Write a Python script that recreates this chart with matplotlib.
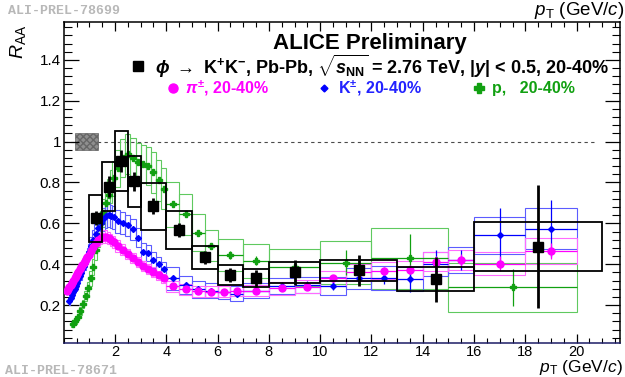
import matplotlib
matplotlib.use("Agg")
import matplotlib.pyplot as plt
from matplotlib.patches import Rectangle
from matplotlib.lines import Line2D
from matplotlib.ticker import MultipleLocator, FixedLocator, FuncFormatter

plt.rcParams['font.family'] = ['Liberation Sans', 'DejaVu Sans']
plt.rcParams['mathtext.fontset'] = 'custom'
plt.rcParams['mathtext.rm'] = 'Liberation Sans:bold'
plt.rcParams['mathtext.it'] = 'Liberation Sans:italic:bold'
plt.rcParams['mathtext.bf'] = 'Liberation Sans:bold'
plt.rcParams['mathtext.sf'] = 'Liberation Sans'
plt.rcParams['mathtext.cal'] = 'Liberation Sans:italic'

# ---------------- data ----------------
# phi -> K+K-  (black)
phi_pt = [1.25, 1.75, 2.25, 2.75, 3.5, 4.5, 5.5, 6.5, 7.5, 9.0, 11.5, 14.5, 18.5]
phi_hw = [0.25, 0.25, 0.25, 0.25, 0.5, 0.5, 0.5, 0.5, 0.5, 1.0, 1.5, 1.5, 2.5]
phi_raa = [0.625, 0.78, 0.905, 0.805, 0.684, 0.567, 0.433, 0.346, 0.33, 0.36, 0.37, 0.327, 0.486]
phi_stat = [0.035, 0.053, 0.055, 0.046, 0.04, 0.035, 0.03, 0.035, 0.04, 0.06, 0.075, 0.11, 0.30]
phi_sys = [0.115, 0.12, 0.145, 0.125, 0.115, 0.095, 0.057, 0.048, 0.044, 0.05, 0.05, 0.06, 0.12]

# pi+-  (magenta)
pi_pt = [0.125, 0.175, 0.225, 0.275, 0.325, 0.375, 0.425, 0.475, 0.525, 0.575, 0.625, 0.675,
         0.725, 0.775, 0.825, 0.875, 0.925, 0.975,
         1.05, 1.15, 1.25, 1.35, 1.45, 1.55, 1.65, 1.75, 1.85, 1.95,
         2.1, 2.3, 2.5, 2.7, 2.9, 3.1, 3.3, 3.5, 3.7, 3.9,
         4.25, 4.75, 5.25, 5.75, 6.25, 6.75,
         7.5, 8.5, 9.5, 10.5, 11.5, 12.5, 13.5, 14.5, 15.5, 17.0, 19.0]
pi_hw = [0.025] * 18 + [0.05] * 10 + [0.1] * 10 + [0.25] * 6 + [0.5] * 9 + [1.0, 1.0]
pi_raa = [0.27, 0.28, 0.29, 0.30, 0.31, 0.32, 0.33, 0.34, 0.35, 0.36, 0.375, 0.385,
          0.395, 0.405, 0.415, 0.425, 0.435, 0.445,
          0.465, 0.485, 0.505, 0.52, 0.53, 0.535, 0.535, 0.53, 0.52, 0.51,
          0.49, 0.47, 0.45, 0.43, 0.41, 0.39, 0.375, 0.36, 0.345, 0.33,
          0.291, 0.278, 0.268, 0.265, 0.265, 0.27,
          0.27, 0.281, 0.29, 0.33, 0.36, 0.368, 0.372, 0.413, 0.421, 0.403, 0.465]
pi_stat = [0.004] * 38 + [0.005, 0.005, 0.005, 0.006, 0.006, 0.007,
                          0.008, 0.01, 0.012, 0.015, 0.018, 0.02, 0.022, 0.025, 0.028, 0.035, 0.04]
pi_sys = [0.018, 0.018, 0.019, 0.019, 0.02, 0.02, 0.021, 0.021, 0.022, 0.022, 0.023, 0.023,
          0.024, 0.024, 0.025, 0.025, 0.026, 0.026,
          0.027, 0.028, 0.028, 0.029, 0.029, 0.03, 0.03, 0.03, 0.029, 0.029,
          0.028, 0.027, 0.026, 0.026, 0.025, 0.025, 0.024, 0.024, 0.023, 0.023,
          0.028, 0.027, 0.027, 0.027, 0.027, 0.028,
          0.028, 0.03, 0.032, 0.037, 0.04, 0.042, 0.043, 0.047, 0.048, 0.055, 0.065]

# K+-  (blue)
k_pt = [0.225, 0.275, 0.325, 0.375, 0.425, 0.475, 0.525, 0.575, 0.625, 0.675, 0.725, 0.775,
        0.825, 0.875, 0.925, 0.975,
        1.05, 1.15, 1.25, 1.35, 1.45, 1.55, 1.65, 1.75, 1.85, 1.95,
        2.1, 2.3, 2.5, 2.7, 2.9, 3.1, 3.3, 3.5, 3.7, 3.9,
        4.25, 4.75, 5.25, 5.75, 6.25, 6.75,
        7.5, 8.5, 9.5, 10.5, 11.5, 12.5, 13.5, 14.5, 15.5, 17.0, 19.0]
k_hw = [0.025] * 16 + [0.05] * 10 + [0.1] * 10 + [0.25] * 6 + [0.5] * 9 + [1.0, 1.0]
k_raa = [0.22, 0.235, 0.25, 0.265, 0.28, 0.295, 0.31, 0.325, 0.34, 0.355, 0.375, 0.39,
         0.41, 0.425, 0.44, 0.46,
         0.49, 0.52, 0.55, 0.575, 0.60, 0.62, 0.635, 0.64, 0.635, 0.63,
         0.61, 0.60, 0.59, 0.57, 0.53, 0.46, 0.455, 0.42, 0.40, 0.375,
         0.33, 0.297, 0.278, 0.27, 0.265, 0.256,
         0.27, 0.294, 0.297, 0.294, 0.33, 0.332, 0.327, 0.40, 0.42, 0.541, 0.574]
k_stat = [0.005] * 26 + [0.01] * 10 + [0.008, 0.008, 0.008, 0.009, 0.01, 0.012,
                                      0.015, 0.018, 0.02, 0.022, 0.025, 0.03, 0.065, 0.07, 0.05,
                                      0.135, 0.14]
k_sys = [0.02, 0.021, 0.022, 0.024, 0.025, 0.026, 0.028, 0.029, 0.03, 0.032, 0.034, 0.035,
         0.037, 0.038, 0.04, 0.041,
         0.044, 0.047, 0.05, 0.052, 0.054, 0.056, 0.057, 0.058, 0.057, 0.057,
         0.055, 0.054, 0.053, 0.051, 0.048, 0.042, 0.041, 0.038, 0.036, 0.034,
         0.054, 0.043, 0.042, 0.038, 0.034, 0.036,
         0.036, 0.04, 0.04, 0.045, 0.05, 0.06, 0.06, 0.06, 0.065, 0.09, 0.10]

# p  (green)
p_pt = [0.35, 0.45, 0.55, 0.65, 0.75, 0.85, 0.95,
        1.05, 1.15, 1.25, 1.35, 1.45, 1.55, 1.65, 1.75, 1.85, 1.95,
        2.1, 2.3, 2.5, 2.7, 2.9, 3.1, 3.3, 3.5, 3.7, 3.9,
        4.25, 4.75, 5.25, 5.75, 6.5, 7.5, 9.0, 11.0, 13.5, 17.5]
p_hw = [0.05] * 17 + [0.1] * 10 + [0.25] * 4 + [0.5, 0.5, 1.0, 1.0, 1.5, 2.5]
p_raa = [0.105, 0.12, 0.14, 0.17, 0.205, 0.245, 0.285,
         0.33, 0.385, 0.47, 0.54, 0.60, 0.65, 0.70, 0.74, 0.78, 0.82,
         0.87, 0.92, 0.94, 0.92, 0.90, 0.89, 0.88, 0.85, 0.81, 0.77,
         0.693, 0.644, 0.555, 0.49, 0.444, 0.416, 0.384, 0.408, 0.428, 0.286]
p_stat = [0.003] * 17 + [0.006] * 10 + [0.01, 0.01, 0.012, 0.015, 0.02, 0.022, 0.025, 0.063, 0.118, 0.09]
p_sys = [0.012, 0.013, 0.015, 0.018, 0.022, 0.026, 0.03,
         0.035, 0.04, 0.048, 0.055, 0.062, 0.068, 0.073, 0.078, 0.082, 0.086,
         0.09, 0.095, 0.098, 0.097, 0.095, 0.094, 0.093, 0.1, 0.1, 0.1,
         0.11, 0.1, 0.09, 0.076, 0.078, 0.082, 0.09, 0.106, 0.15, 0.12]

# normalisation uncertainty box around unity
norm_lo, norm_hi = 0.43, 1.32
norm_unc = 0.042

# ---------------- figure ----------------
W, H = 625.0, 377.0
fig = plt.figure(figsize=(W / 100, H / 100), dpi=100)
x0, x1, ytop, ybot = 63.7, 620.0, 22.0, 343.0
ax = fig.add_axes([x0 / W, 1 - ybot / H, (x1 - x0) / W, (ybot - ytop) / H])
ax.set_xlim(0, 21.69)
ax.set_ylim(0.014, 1.586)

col_pi, col_pi_box = '#ff00ff', '#ff6bff'
col_k, col_k_box = '#0000ff', '#5c5cff'
col_p, col_p_box = '#11a011', '#5fc95f'


def boxes(x, hw, y, s, color, lw, z):
    for xi, wi, yi, si in zip(x, hw, y, s):
        ax.add_patch(Rectangle((xi - wi, yi - si), 2 * wi, 2 * si, fill=False,
                               edgecolor=color, lw=lw, zorder=z))


boxes(p_pt, p_hw, p_raa, p_sys, col_p_box, 0.8, 2)
boxes(k_pt, k_hw, k_raa, k_sys, col_k_box, 0.8, 2.1)
boxes(pi_pt, pi_hw, pi_raa, pi_sys, col_pi_box, 0.8, 2.2)

ax.errorbar(p_pt, p_raa, xerr=p_hw, yerr=p_stat, fmt='P', ms=5, color=col_p,
            elinewidth=0.9, capsize=0, zorder=3)
ax.errorbar(k_pt, k_raa, xerr=k_hw, yerr=k_stat, fmt='D', ms=3, color=col_k,
            elinewidth=0.9, capsize=0, zorder=3.1)
ax.errorbar(pi_pt, pi_raa, xerr=pi_hw, yerr=pi_stat, fmt='o', ms=5, color=col_pi,
            elinewidth=0.9, capsize=0, zorder=3.2)

boxes(phi_pt, phi_hw, phi_raa, phi_sys, 'black', 1.3, 4)
ax.errorbar(phi_pt, phi_raa, yerr=phi_stat, fmt='s', ms=7, color='black',
            elinewidth=2.0, capsize=0, zorder=5)

# unity line and normalisation box
ax.plot([0, 20.8], [1, 1], color='#4a4a4a', lw=0.8, dashes=(3, 3), zorder=1)
ax.add_patch(Rectangle((norm_lo, 1 - norm_unc), norm_hi - norm_lo, 2 * norm_unc,
                       facecolor='#8f8f8f', edgecolor='#666666', hatch='xxxxx', lw=0.5, zorder=1.5))

# axes styling (ROOT look)
for s in ax.spines.values():
    s.set_linewidth(1.1)
ax.spines['bottom'].set_color('#1c1c66')
ax.xaxis.set_major_locator(FixedLocator([2, 4, 6, 8, 10, 12, 14, 16, 18, 20]))
ax.xaxis.set_minor_locator(MultipleLocator(0.5))
ax.yaxis.set_major_locator(FixedLocator([0.2, 0.4, 0.6, 0.8, 1.0, 1.2, 1.4]))
ax.yaxis.set_minor_locator(MultipleLocator(0.04))
ax.yaxis.set_major_formatter(FuncFormatter(lambda v, p: '%g' % round(v, 2)))
ax.tick_params(axis='x', which='major', direction='in', length=6.5, width=0.9,
               top=True, bottom=True, labelsize=10.5, pad=1.2)
ax.tick_params(axis='x', which='minor', direction='in', length=3.5, width=0.8, top=True, bottom=True)
ax.tick_params(axis='y', which='major', direction='in', length=10.5, width=0.9,
               left=True, right=True, labelsize=11, pad=2)
ax.tick_params(axis='y', which='minor', direction='in', length=5.5, width=0.8, left=True, right=True)


def fpos(px, py):
    return px / W, 1 - py / H


# labels
fig.text(*fpos(623, 377), r"$\mathcal{p}_{\mathsf{T}}$ (GeV/$\mathcal{c}$)", ha='right', va='bottom',
         fontsize=12.5)
fig.text(*fpos(624, 0), r"$\mathcal{p}_{\mathsf{T}}$ (GeV/$\mathcal{c}$)", ha='right', va='top',
         fontsize=13.5)
fig.text(*fpos(18, 42), r"$\mathcal{R}_{\mathsf{AA}}$", ha='center', va='center', rotation=90,
         fontsize=14)
fig.text(*fpos(8, 11), "ALI-PREL-78699", ha='left', va='center', fontsize=9.5,
         family='Liberation Mono', fontweight='bold', color='#b8b8b8')
fig.text(*fpos(5, 371), "ALI-PREL-78671", ha='left', va='center', fontsize=9.5,
         family='Liberation Mono', fontweight='bold', color='#b8b8b8')

# legend block
fig.text(*fpos(370, 44), "ALICE Preliminary", ha='center', va='center', fontsize=16, fontweight='bold')
fig.text(*fpos(155, 66),
         r"$\phi$ $\rightarrow$ K$^{+}$K$^{-}$, Pb-Pb, $\sqrt{s_{\mathrm{NN}}}$ = 2.76 TeV, |$y$| < 0.5, 20-40%",
         ha='left', va='center', fontsize=13, fontweight='bold')
fig.text(*fpos(185, 88), r"$\pi^{\pm}$, 20-40%", ha='left', va='center', fontsize=11.5,
         fontweight='bold', color=col_pi)
fig.text(*fpos(338, 88), r"K$^{\pm}$, 20-40%", ha='left', va='center', fontsize=11.5,
         fontweight='bold', color='#2222ff')
fig.text(*fpos(492, 88), "p,   20-40%", ha='left', va='center', fontsize=11.5,
         fontweight='bold', color=col_p)

for (mx, my), mk, ms, c in [((138, 66), 's', 7.5, 'black'), ((173, 88), 'o', 6.5, col_pi),
                            ((324, 88), 'D', 3.5, col_k), ((479, 88), 'P', 6.5, col_p)]:
    fx, fy = fpos(mx, my)
    fig.add_artist(Line2D([fx], [fy], transform=fig.transFigure, marker=mk, ms=ms,
                          color=c, linestyle='none'))

fig.savefig('out.png', dpi=100)
